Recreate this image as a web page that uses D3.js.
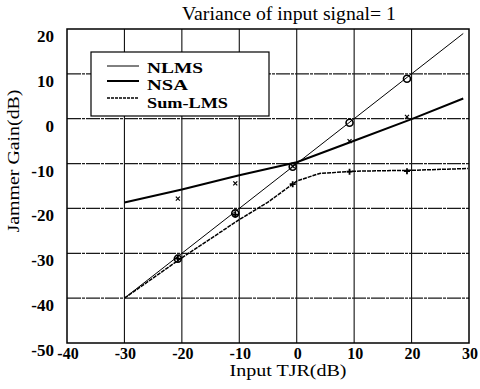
<!DOCTYPE html>
<html>
<head>
<meta charset="utf-8">
<script src="https://cdn.jsdelivr.net/npm/d3@7"></script>
<style>
  body { margin: 0; background: #fff; }
  svg { display: block; font-family: 'Liberation Serif', 'Times New Roman', serif; }
</style>
</head>
<body>
<div id="display"></div>
<script>
const w = 480;
const h = 389;
const margin = { top: 29, right: 11, bottom: 46, left: 67 };

// curves (x in dB, y in dB)
const lineX = [-30, -20, -10, 0, 10, 20, 29];
const nlmsLine = [-40, -30, -20, -10, 0, 10, 19];
const nsaLine = [-18.7, -15.8, -12.6, -9.7, -4.9, -0.1, 4.5];
const sumX = [-30, -20, -10, -5, 0, 4, 10, 20, 29.8];
const sumLine = [-40, -31, -22.5, -18.6, -13.9, -12.2, -11.7, -11.5, -11.1];

// simulated points
const markX = [-20.7, -10.7, -0.7, 9.2, 19.2];
const nlmsMarks = [-31.2, -21.1, -10.7, -0.9, 8.9];
const nsaMarks = [-17.8, -14.4, -10.6, -5, 0.4];
const sumMarks = [-31.2, -21.4, -14.6, -11.8, -11.7];

const xTicks = [-40, -30, -20, -10, 0, 10, 20, 30];
const yTicks = [20, 10, 0, -10, -20, -30, -40, -50];

const viz = d3.select('#display').append('svg')
    .attr('width', w)
    .attr('height', h);

const xScale = d3.scaleLinear().domain([-40, 30]).range([margin.left, w - margin.right]);
const yScale = d3.scaleLinear().domain([-50, 20]).range([h - margin.bottom, margin.top]);

// grid
viz.append('g').selectAll('line')
    .data(xTicks.slice(1, -1))
    .enter().append('line')
    .attr('x1', d => xScale(d)).attr('x2', d => xScale(d))
    .attr('y1', yScale(20)).attr('y2', yScale(-50))
    .attr('stroke', '#111').attr('stroke-width', 1.1);
viz.append('g').selectAll('line')
    .data(yTicks.slice(1, -1))
    .enter().append('line')
    .attr('x1', xScale(-40)).attr('x2', xScale(30))
    .attr('y1', d => yScale(d)).attr('y2', d => yScale(d))
    .attr('stroke', '#1a1a1a').attr('stroke-width', 1.2)
    .attr('stroke-dasharray', '14,1,3,1');

// frame
viz.append('rect')
    .attr('x', xScale(-40)).attr('y', yScale(20))
    .attr('width', xScale(30) - xScale(-40))
    .attr('height', yScale(-50) - yScale(20))
    .attr('fill', 'none').attr('stroke', '#000').attr('stroke-width', 1.5);

// tick labels
viz.append('g').selectAll('text')
    .data(yTicks)
    .enter().append('text')
    .attr('x', 54)
    .attr('y', d => yScale(d) + 13)
    .attr('text-anchor', 'end')
    .style('font-size', '17px')
    .style('font-weight', 'bold')
    .text(d => d);
viz.append('g').selectAll('text')
    .data(xTicks)
    .enter().append('text')
    .attr('x', d => xScale(d) + 1)
    .attr('y', 359)
    .attr('text-anchor', 'middle')
    .style('font-size', '16px')
    .style('font-weight', 'bold')
    .text(d => d);

// titles
viz.append('text')
    .attr('x', 289).attr('y', 20)
    .attr('text-anchor', 'middle')
    .attr('textLength', 214).attr('lengthAdjust', 'spacingAndGlyphs')
    .style('font-size', '18px')
    .text('Variance of input signal= 1');
viz.append('text')
    .attr('x', 288).attr('y', 376)
    .attr('text-anchor', 'middle')
    .attr('textLength', 117).attr('lengthAdjust', 'spacingAndGlyphs')
    .style('font-size', '16px')
    .text('Input TJR(dB)');
viz.append('text')
    .attr('transform', 'translate(19,161) rotate(-90)')
    .attr('text-anchor', 'middle')
    .attr('textLength', 143).attr('lengthAdjust', 'spacingAndGlyphs')
    .style('font-size', '17px')
    .text('Jammer Gain(dB)');

// curves
const lineMaker = d3.line()
    .x(d => xScale(d[0]))
    .y(d => yScale(d[1]));
const zip = (xs, ys) => xs.map((x, i) => [x, ys[i]]);

const plot = viz.append('g');
plot.append('path')
    .attr('d', lineMaker(zip(lineX, nlmsLine)))
    .attr('fill', 'none').attr('stroke', '#000').attr('stroke-width', 1);
plot.append('path')
    .attr('d', lineMaker(zip(lineX, nsaLine)))
    .attr('fill', 'none').attr('stroke', '#000').attr('stroke-width', 2);
plot.append('path')
    .attr('d', lineMaker(zip(sumX, sumLine)))
    .attr('fill', 'none').attr('stroke', '#000').attr('stroke-width', 1.5)
    .attr('stroke-dasharray', '4,1');

// markers
plot.selectAll('.circ')
    .data(zip(markX, nlmsMarks))
    .enter().append('circle')
    .attr('class', 'circ')
    .attr('cx', d => xScale(d[0])).attr('cy', d => yScale(d[1]))
    .attr('r', 3.5)
    .attr('fill', 'none').attr('stroke', '#000').attr('stroke-width', 1.6);
plot.selectAll('.xm')
    .data(zip(markX, nsaMarks))
    .enter().append('path')
    .attr('class', 'xm')
    .attr('d', d => {
        const x = xScale(d[0]), y = yScale(d[1]);
        return `M${x - 2},${y - 2}L${x + 2},${y + 2}M${x - 2},${y + 2}L${x + 2},${y - 2}`;
    })
    .attr('stroke', '#000').attr('stroke-width', 1.2);
plot.selectAll('.pm')
    .data(zip(markX, sumMarks))
    .enter().append('path')
    .attr('class', 'pm')
    .attr('d', d => {
        const x = xScale(d[0]), y = yScale(d[1]);
        return `M${x - 3},${y}L${x + 3},${y}M${x},${y - 3}L${x},${y + 3}`;
    })
    .attr('stroke', '#000').attr('stroke-width', 1.8);

// legend
const legend = viz.append('g');
legend.append('rect')
    .attr('x', 91).attr('y', 52).attr('width', 178).attr('height', 64)
    .attr('fill', '#fff').attr('stroke', '#000').attr('stroke-width', 1.2);
const legendItems = [
    { name: 'NLMS', len: 56, sw: 1, dash: null, ly: 66, ty: 72.5 },
    { name: 'NSA', len: 41, sw: 2, dash: null, ly: 81, ty: 90 },
    { name: 'Sum-LMS', len: 81, sw: 1.6, dash: '3,1', ly: 98, ty: 107.5 }
];
legendItems.forEach(it => {
    legend.append('line')
        .attr('x1', 107).attr('x2', 139)
        .attr('y1', it.ly).attr('y2', it.ly)
        .attr('stroke', '#000').attr('stroke-width', it.sw)
        .attr('stroke-dasharray', it.dash);
    legend.append('text')
        .attr('x', 147).attr('y', it.ty)
        .attr('textLength', it.len).attr('lengthAdjust', 'spacingAndGlyphs')
        .style('font-size', '15.5px')
        .style('font-weight', 'bold')
        .text(it.name);
});
</script>
</body>
</html>
